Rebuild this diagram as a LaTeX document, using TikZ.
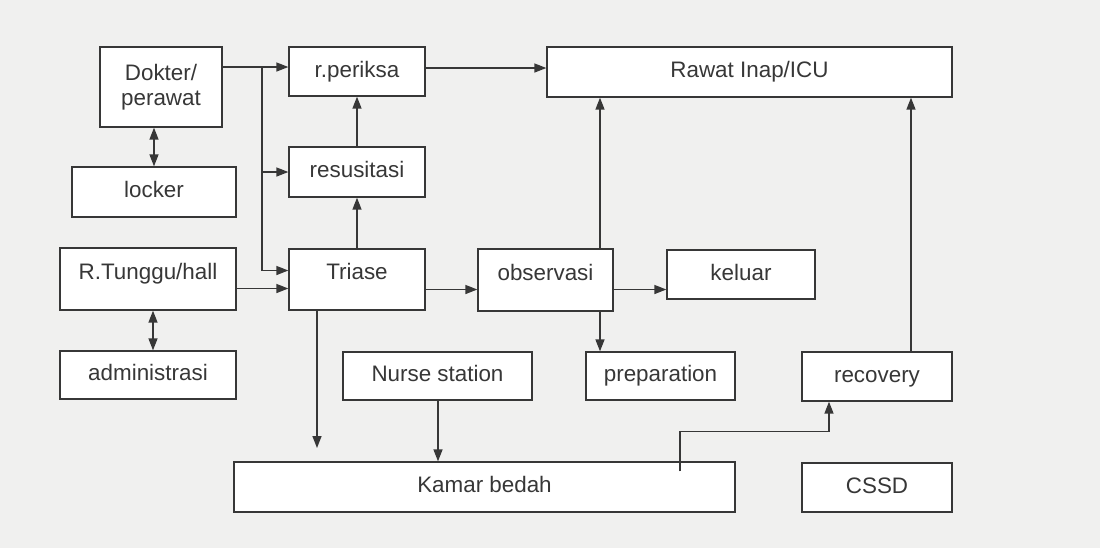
\documentclass[tikz,border=0pt]{standalone}
\usepackage{fontspec}
\setmainfont{Liberation Sans}
\usetikzlibrary{arrows.meta}
\definecolor{paper}{RGB}{240,240,239}
\definecolor{ink}{RGB}{55,55,55}

\begin{document}
\begin{tikzpicture}[x=0.5pt, y=-0.5pt,
  box/.style={draw=ink, fill=white, line width=0.65pt, text=ink, inner sep=0pt,
    align=center, font=\fontsize{11.2}{12.6}\selectfont},
  room/.style={box, text height=8pt, text depth=2.5pt},
  tallroom/.style={box, text height=8pt, text depth=8pt},
  flow/.style={draw=ink, line width=0.7pt, -{Triangle[length=6pt,width=4.5pt]}},
  twoway/.style={draw=ink, line width=0.7pt,
    {Triangle[length=6pt,width=4.5pt]}-{Triangle[length=6pt,width=4.5pt]}}]
\fill[paper] (0,0) rectangle (1100,548);
% rooms
\node[box, minimum width=61pt, minimum height=40pt] (dokter) at (161,87) {Dokter/\\perawat};
\node[room, minimum width=82pt, minimum height=25pt] (locker) at (154,192) {locker};
\node[tallroom, minimum width=88pt, minimum height=31pt] (tunggu) at (148,279) {R.Tunggu/hall};
\node[room, minimum width=88pt, minimum height=24pt] (admin) at (148,375) {administrasi};
\node[room, minimum width=68pt, minimum height=24.5pt] (periksa) at (357,71.5) {r.periksa};
\node[room, minimum width=68pt, minimum height=25pt] (resus) at (357,172) {resusitasi};
\node[tallroom, minimum width=68pt, minimum height=30.5pt] (triase) at (357,279.5) {Triase};
\node[tallroom, minimum width=67.5pt, minimum height=31pt] (observasi) at (545.5,280) {observasi};
\node[room, minimum width=74pt, minimum height=24.5pt] (keluar) at (741,274.5) {keluar};
\node[room, minimum width=202.5pt, minimum height=25pt] (rawat) at (749.5,72) {Rawat Inap/ICU};
\node[room, minimum width=94.5pt, minimum height=24pt] (nurse) at (437.5,376) {Nurse station};
\node[room, minimum width=74.5pt, minimum height=24pt] (prep) at (660.5,376) {preparation};
\node[room, minimum width=75pt, minimum height=24.5pt] (recovery) at (877,376.5) {recovery};
\node[room, minimum width=250.5pt, minimum height=25pt] (bedah) at (484.5,487) {Kamar bedah};
\node[room, minimum width=75pt, minimum height=24.5pt] (cssd) at (877,487.5) {CSSD};
% helper points
\coordinate (split) at (262,67);
\coordinate (tri_in1) at ([yshift=4.5pt]triase.west);
\coordinate (tri_in2) at ([yshift=-4.5pt]triase.west);
\coordinate (tri_out) at ([yshift=-5pt]triase.east);
\coordinate (obs_up) at ([xshift=27.25pt]observasi.north);
\coordinate (obs_down) at ([xshift=27.25pt]observasi.south);
\coordinate (tri_down) at ([xshift=-20pt]triase.south);
\coordinate (tri_end) at (tri_down |- 0,448);
\coordinate (bedah_out) at ([xshift=97.75pt, yshift=-5pt]bedah.north);
\coordinate (rec_in) at ([xshift=-24pt]recovery.south);
\coordinate (rec_out) at ([xshift=17pt]recovery.north);
% connectors
\draw[flow] (dokter.east |- split) -- (periksa.west |- split);
\draw[flow] (split) |- (tri_in1);
\draw[flow] (split |- resus.west) -- (resus.west);
\draw[flow] (tunggu.east |- tri_in2) -- (tri_in2);
\draw[twoway] (locker.north |- dokter.south) -- (locker.north);
\draw[twoway] ([xshift=2.5pt]tunggu.south) -- ([xshift=2.5pt]admin.north);
\draw[flow] (triase.north) -- (resus.south);
\draw[flow] (resus.north) -- (periksa.south);
\draw[flow] (periksa.east |- 0,68) -- (rawat.west |- 0,68);
\draw[flow] (tri_out) -- (observasi.west |- tri_out);
\draw[flow] (observasi.east |- tri_out) -- (keluar.west |- tri_out);
\draw[flow] (obs_up) -- (obs_up |- rawat.south);
\draw[flow] (obs_down) -- (obs_down |- prep.north);
\draw[flow] (rec_out) -- (rec_out |- rawat.south);
\draw[flow] ([xshift=0.25pt]nurse.south) -- ([xshift=0.25pt]nurse.south |- bedah.north);
\draw[flow] (tri_down) -- (tri_end);
\draw[flow] (bedah_out) -- ++(0,-40) -| (rec_in);
\end{tikzpicture}
\end{document}
